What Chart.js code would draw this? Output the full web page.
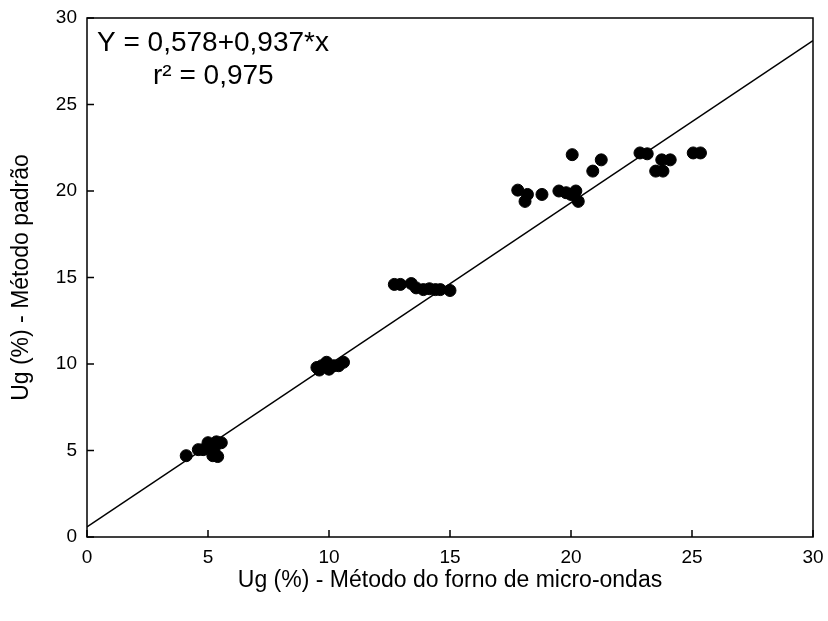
<!DOCTYPE html>
<html>
<head>
<meta charset="utf-8">
<script src="https://cdn.jsdelivr.net/npm/chart.js@4"></script>
<style>
  html, body { margin: 0; padding: 0; background: #fff; }
  #wrap { width: 828px; height: 621px; }
</style>
</head>
<body>
<div id="wrap"><canvas id="grafico" width="828" height="621"></canvas></div>
<script>
// Ug (%) - micro-ondas (x) vs método padrão (y)
let xMicro = [4.1, 4.6, 4.8, 5.0, 5.2, 5.25, 5.35, 5.4, 5.55,
              9.5, 9.6, 9.7, 9.9, 10.0, 10.2, 10.4, 10.6,
              12.7, 12.95, 13.4, 13.6, 13.9, 14.15, 14.4, 14.6, 15.0,
              17.8, 18.2, 18.1, 18.8, 19.5, 19.8, 20.0, 20.2, 20.3,
              20.05, 20.9, 21.25,
              22.85, 23.15, 23.5, 23.8, 23.75, 24.1, 25.05, 25.35];
let yPadrao = [4.7, 5.05, 5.05, 5.45, 4.7, 5.05, 5.5, 4.65, 5.45,
               9.8, 9.65, 9.9, 10.1, 9.7, 9.9, 9.9, 10.1,
               14.6, 14.6, 14.65, 14.4, 14.3, 14.35, 14.3, 14.3, 14.25,
               20.05, 19.8, 19.4, 19.8, 20.0, 19.9, 19.8, 20.0, 19.4,
               22.1, 21.15, 21.8,
               22.2, 22.15, 21.15, 21.15, 21.8, 21.8, 22.2, 22.2];

let intercepto = 0.578;
let inclinacao = 0.937;
let xLinha = [0, 30];

let xTicks = [0, 5, 10, 15, 20, 25, 30];
let yTicks = [0, 5, 10, 15, 20, 25, 30];

let pontos = xMicro.map((x, i) => ({ x: x, y: yPadrao[i] }));
let linha = xLinha.map(x => ({ x: x, y: intercepto + inclinacao * x }));

const fonte = 'Liberation Sans, Arial, Helvetica, sans-serif';

// moldura, marcas internas dos eixos e equação
const extras = {
    id: 'extras',
    afterDraw(chart) {
        const c = chart.ctx;
        const a = chart.chartArea;
        const sx = chart.scales.x, sy = chart.scales.y;
        c.save();
        c.strokeStyle = '#000';
        c.lineWidth = 1.5;
        c.strokeRect(a.left, a.top, a.right - a.left, a.bottom - a.top);
        c.beginPath();
        xTicks.forEach(v => {
            const p = sx.getPixelForValue(v);
            c.moveTo(p, a.bottom);
            c.lineTo(p, a.bottom - 7);
        });
        yTicks.forEach(v => {
            const p = sy.getPixelForValue(v);
            c.moveTo(a.left, p);
            c.lineTo(a.left + 7, p);
        });
        c.stroke();
        c.fillStyle = '#000';
        c.font = '28px ' + fonte;
        c.textBaseline = 'middle';
        c.fillText('Y = 0,578+0,937*x', a.left + 10, a.top + 25);
        c.fillText('r² = 0,975', a.left + 66, a.top + 58);
        c.restore();
    }
};

let grafico = new Chart(document.getElementById('grafico').getContext('2d'), {
    type: 'scatter',
    data: {
        datasets: [{
            data: pontos,
            backgroundColor: '#000',
            borderColor: '#000',
            borderWidth: 1,
            pointRadius: 6,
            order: 1
        }, {
            type: 'line',
            data: linha,
            borderColor: '#000',
            borderWidth: 1.5,
            pointRadius: 0,
            fill: false,
            order: 2
        }]
    },
    options: {
        responsive: false,
        animation: false,
        layout: { padding: { left: 0, right: 15, top: 18, bottom: 27 } },
        plugins: {
            legend: { display: false },
            tooltip: { enabled: false }
        },
        scales: {
            x: {
                type: 'linear',
                min: 0,
                max: 30,
                afterFit: (s) => { s.height = 57; s.paddingRight = 0; s.paddingLeft = 0; },
                afterBuildTicks: (s) => { s.ticks = xTicks.map(v => ({ value: v })); },
                grid: { display: false, drawTicks: false },
                border: { display: false },
                ticks: { color: '#000', padding: 9, font: { family: fonte, size: 19 } },
                title: {
                    display: true,
                    text: 'Ug (%) - Método do forno de micro-ondas',
                    color: '#000',
                    padding: { top: 10, bottom: 0 },
                    font: { family: fonte, size: 23 }
                }
            },
            y: {
                type: 'linear',
                min: 0,
                max: 30,
                afterFit: (s) => { s.width = 87; s.paddingTop = 0; s.paddingBottom = 0; },
                afterBuildTicks: (s) => { s.ticks = yTicks.map(v => ({ value: v })); },
                grid: { display: false, drawTicks: false },
                border: { display: false },
                ticks: { color: '#000', padding: 10, font: { family: fonte, size: 19 } },
                title: {
                    display: true,
                    text: 'Ug (%) - Método padrão',
                    color: '#000',
                    padding: { top: 8, bottom: 10 },
                    font: { family: fonte, size: 23 }
                }
            }
        }
    },
    plugins: [extras]
});
</script>
</body>
</html>
